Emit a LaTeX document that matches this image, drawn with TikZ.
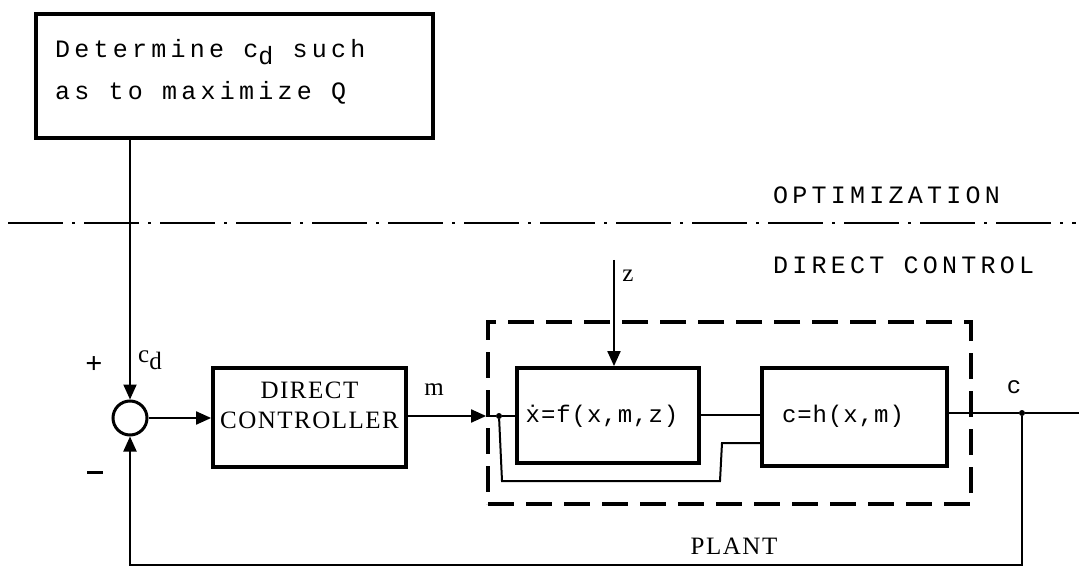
\documentclass[tikz,border=0pt]{standalone}
\usepackage{fontspec}
\setmainfont{Liberation Serif}
\newfontfamily\tw[LetterSpace=17]{Liberation Mono}
\newfontfamily\twm[LetterSpace=4]{Liberation Mono}
\newfontfamily\sr[LetterSpace=6]{Liberation Serif}
\usetikzlibrary{arrows.meta}
\tikzset{
  blk/.style={draw,line width=3.8pt,inner sep=0pt},
  wire/.style={line width=2pt},
  arr/.style={wire,-{Triangle[length=15pt,width=13pt]}},
  twtext/.style={inner sep=0pt,font=\tw\fontsize{25}{25}\selectfont},
  eqtext/.style={inner sep=0pt,font=\twm\fontsize{24}{24}\selectfont},
  srtext/.style={inner sep=0pt,font=\sr\fontsize{25}{25}\selectfont},
  sign/.style={inner sep=0pt,font=\fontsize{30}{30}\selectfont\bfseries},
  dashbox/.style={draw,line width=3.8pt,dash pattern=on 26pt off 12pt,inner sep=0pt},
  dashdot/.style={line width=2.2pt,dash pattern=on 55pt off 9pt on 3pt off 9pt},
  jdot/.style={circle,fill,inner sep=0pt,minimum size=6pt}
}
\begin{document}
\begin{tikzpicture}[x=1pt,y=-1pt]
\useasboundingbox (0,0) rectangle (1079,569);
% optimization block
\node[blk,minimum width=397pt,minimum height=124pt] (opt) at (234.5,76) {};
\node[twtext,anchor=base west] (opt1) at (55,58) {Determine c\raisebox{-7pt}{d} such};
\node[twtext,anchor=base west] (opt2) at (55,100) {as to maximize Q};
% separator
\coordinate (sepL) at (8,223);
\coordinate (sepR) at (1076,223);
\draw[dashdot] (sepL) -- (sepR);
\node[twtext,anchor=west] (optlbl) at (773,195) {OPTIMIZATION};
\node[twtext,anchor=west] (dclbl) at (773,265) {DIRECT CONTROL};
% summing junction
\node[circle,draw,line width=3pt,minimum size=34pt,inner sep=0pt] (sum) at (130,418) {};
\draw[arr] (opt.south -| sum) -- (sum.north);
\node[sign] (plus) at (94,365) {+};
\node[sign] (minus) at (95,472) {\rule{16pt}{3pt}};
\node[srtext,anchor=base west] (cd) at (138,362) {c\raisebox{-8pt}{d}};
% direct controller
\node[blk,minimum width=193pt,minimum height=99pt] (ctrl) at (309.5,417.5) {};
\node[srtext] (ctrl1) at (309.5,390) {DIRECT};
\node[srtext] (ctrl2) at (309.5,420) {CONTROLLER};
\draw[arr] (sum.east) -- (sum.east -| ctrl.west);
% plant
\node[dashbox,minimum width=483pt,minimum height=182pt] (plant) at (729.5,413) {};
\node[srtext] (plantlbl) at (734,546) {PLANT};
\draw[arr] (ctrl.east |- 0,416) -- (plant.west |- 0,416);
\node[srtext] (mlbl) at (434,390) {m};
% internal blocks
\node[blk,minimum width=182pt,minimum height=95pt] (fblk) at (608,415.5) {};
\node[eqtext] (feq) at (602,416) {\.{x}=f(x,m,z)};
\node[blk,minimum width=185pt,minimum height=98pt] (hblk) at (854.5,417) {};
\node[eqtext] (heq) at (843,416) {c=h(x,m)};
\node[jdot] (jin) at (499,416) {};
\draw[wire] (plant.west |- 0,416) -- (jin) -- (fblk.west |- 0,416);
\draw[wire] (fblk.east |- 0,415) -- (hblk.west |- 0,415);
\draw[wire] (jin) -- (502,481) -- (720,481) -- (722,443) -- (hblk.west |- 0,443);
% disturbance
\coordinate (ztop) at (614,260);
\draw[arr] (ztop) -- (ztop |- fblk.north);
\node[srtext] (zlbl) at (628,276) {z};
% output
\node[jdot] (jout) at (1022,413) {};
\coordinate (out) at (1079,413);
\draw[wire] (hblk.east |- 0,413) -- (jout) -- (out);
\node[eqtext] (clbl) at (1014,387) {c};
\coordinate (fb1) at (1022,565);
\draw[arr] (jout) -- (fb1) -- (fb1 -| sum) -- (sum.south);
\end{tikzpicture}
\end{document}
